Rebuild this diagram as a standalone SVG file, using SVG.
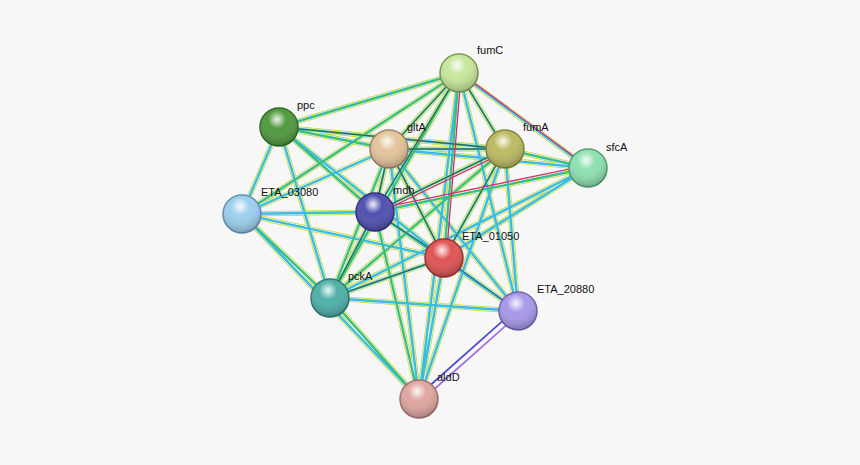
<svg xmlns="http://www.w3.org/2000/svg" width="860" height="465" viewBox="0 0 860 465">
<style>
.l1{stroke:#c3d62a;stroke-width:5}
.l2{stroke:#f2f6ee;stroke-width:3.6}
.l2b{stroke:#38bde0;stroke-width:2.4}
.l3{stroke:#3cc43c;stroke-width:1.2}
.l4{stroke:#444;stroke-width:0.9}
.t{font-family:"Liberation Sans",Arial,sans-serif;font-size:11px;fill:#111}
circle.n{stroke-width:1.5}
</style>
<defs>
<radialGradient id="sh" cx="0.45" cy="0.3" r="0.7"><stop offset="0" stop-color="#fff" stop-opacity="0.9"/><stop offset="0.35" stop-color="#fff" stop-opacity="0"/><stop offset="1" stop-color="#000" stop-opacity="0.25"/></radialGradient>
<path id="all" d="M459,73L279,127M459,73L389,149M459,73L505,149M459,73L588,168M459,73L375,212M459,73L444,258M459,73L330,298M459,73L518,311M459,73L242,214M459,73L419,399M279,127L389,149M279,127L505,149M279,127L375,212M279,127L242,214M279,127L330,298M279,127L444,258M389,149L505,149M389,149L588,168M389,149L375,212M389,149L444,258M389,149L330,298M389,149L518,311M389,149L419,399M389,149L242,214M505,149L588,168M505,149L375,212M505,149L444,258M505,149L330,298M505,149L518,311M505,149L419,399M588,168L375,212M588,168L444,258M588,168L330,298M242,214L375,212M242,214L330,298M242,214L444,258M242,214L419,399M375,212L444,258M375,212L330,298M375,212L518,311M375,212L419,399M444,258L330,298M444,258L518,311M444,258L419,399M330,298L518,311M330,298L419,399"/>
</defs>
<rect width="860" height="465" fill="#f7f7f7"/>
<g id="connectors" fill="none">
<use href="#all" class="l1"/>
<use href="#all" class="l2"/>
<use href="#all" class="l2b"/>
<g class="l3"><path d="M459,73L279,127M459,73L389,149M459,73L505,149M459,73L375,212M459,73L444,258M459,73L330,298M459,73L242,214M279,127L389,149M279,127L505,149M279,127L375,212M389,149L505,149M389,149L375,212M389,149L444,258M389,149L330,298M505,149L588,168M505,149L375,212M505,149L444,258M505,149L330,298M588,168L375,212M242,214L330,298M375,212L444,258M375,212L330,298M375,212L419,399M444,258L330,298M330,298L419,399"/></g>
<g class="l4"><path d="M459,73L389,149M459,73L505,149M459,73L375,212M279,127L505,149M389,149L505,149M389,149L375,212M389,149L444,258M505,149L375,212M505,149L444,258M375,212L444,258M375,212L330,298M444,258L330,298M444,258L518,311"/></g>
<g stroke="#e0207a" stroke-width="1.2"><path d="M462,74L591,169M505,152L375,215M461,76L446,261M589,165L376,209"/></g>
<g stroke-width="1.8"><path d="M516,309L417,397" stroke="#4b4bd6"/><path d="M520,313L421,401" stroke="#a070e0"/></g>
</g>
<g id="fumC"><circle class="n" cx="459" cy="73" r="19" fill="#c6e79c" stroke="#7a9a50"/><circle cx="459" cy="73" r="19" fill="url(#sh)"/><text class="t" x="477" y="54">fumC</text></g>
<g id="ppc"><circle class="n" cx="279" cy="127" r="19" fill="#4f9a3e" stroke="#2e6a22"/><circle cx="279" cy="127" r="19" fill="url(#sh)"/><text class="t" x="297" y="109">ppc</text></g>
<g id="gltA"><circle class="n" cx="389" cy="149" r="19" fill="#e3c49c" stroke="#a08060"/><circle cx="389" cy="149" r="19" fill="url(#sh)"/><text class="t" x="407" y="131">gltA</text></g>
<g id="fumA"><circle class="n" cx="505" cy="149" r="19" fill="#bcbb62" stroke="#86863a"/><circle cx="505" cy="149" r="19" fill="url(#sh)"/><text class="t" x="523" y="131">fumA</text></g>
<g id="sfcA"><circle class="n" cx="588" cy="168" r="19" fill="#8ee0b0" stroke="#50a070"/><circle cx="588" cy="168" r="19" fill="url(#sh)"/><text class="t" x="606" y="151">sfcA</text></g>
<g id="ETA_03080"><circle class="n" cx="242" cy="214" r="19" fill="#9ccfee" stroke="#6090b0"/><circle cx="242" cy="214" r="19" fill="url(#sh)"/><text class="t" x="261" y="196">ETA_03080</text></g>
<g id="mdh"><circle class="n" cx="375" cy="212" r="19" fill="#5050b0" stroke="#303080"/><circle cx="375" cy="212" r="19" fill="url(#sh)"/><text class="t" x="393" y="194">mdh</text></g>
<g id="ETA_01050"><circle class="n" cx="444" cy="258" r="19" fill="#e05454" stroke="#a03030"/><circle cx="444" cy="258" r="19" fill="url(#sh)"/><text class="t" x="462" y="240">ETA_01050</text></g>
<g id="pckA"><circle class="n" cx="330" cy="298" r="19" fill="#4fb0a8" stroke="#2e7a74"/><circle cx="330" cy="298" r="19" fill="url(#sh)"/><text class="t" x="348" y="280">pckA</text></g>
<g id="ETA_20880"><circle class="n" cx="518" cy="311" r="19" fill="#a898e8" stroke="#7060b0"/><circle cx="518" cy="311" r="19" fill="url(#sh)"/><text class="t" x="537" y="293">ETA_20880</text></g>
<g id="aldD"><circle class="n" cx="419" cy="399" r="19" fill="#e0a6a0" stroke="#a07070"/><circle cx="419" cy="399" r="19" fill="url(#sh)"/><text class="t" x="437" y="381">aldD</text></g>
</svg>
